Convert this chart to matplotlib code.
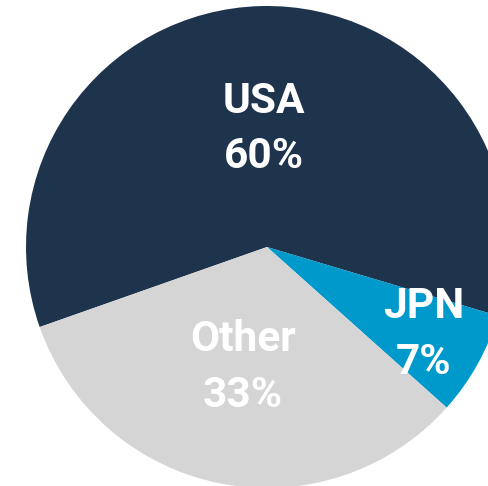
import numpy as np
import matplotlib.pyplot as plt

# share of the total, by country
labels = ["USA", "JPN", "Other"]
shares = [60, 7, 33]
colors = ["#1e334c", "#0099cc", "#d5d5d5"]
label_dist = [0.49, 0.745, 0.51]  # how far out each label sits

W, H = 489, 486
cx, cy, R = 267, 247, 241  # pie center and radius in pixels

fig = plt.figure(figsize=(W / 100, H / 100), dpi=100)
ax = fig.add_axes([0, 0, 1, 1])

wedges, _ = ax.pie(shares, colors=colors, startangle=199.4, counterclock=False,
                   radius=1, wedgeprops=dict(linewidth=0))

# white bold labels in the middle of each wedge
for w, lab, val, d in zip(wedges, labels, shares, label_dist):
    ang = np.deg2rad((w.theta1 + w.theta2) / 2)
    ax.text(d * np.cos(ang), d * np.sin(ang), f"{lab}\n{val}%",
            ha="center", va="center", color="white", fontsize=30.5,
            fontweight="bold", family=["Roboto", "DejaVu Sans"], linespacing=1.45)

# crop so the pie lands where it does in the original
ax.set_xlim(-cx / R, (W - cx) / R)
ax.set_ylim(-(H - cy) / R, cy / R)
ax.set_aspect("auto")
ax.axis("off")

fig.savefig("out.png", dpi=100)
